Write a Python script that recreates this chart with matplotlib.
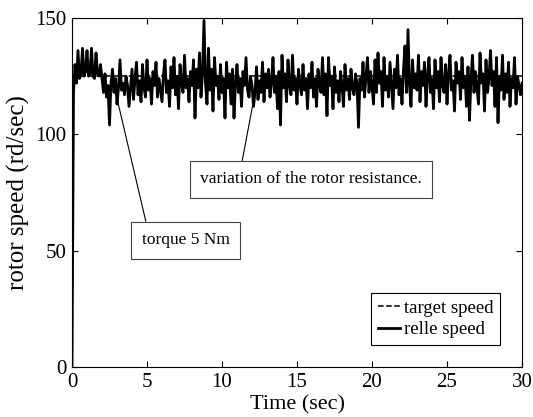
import numpy as np
import matplotlib
matplotlib.use('Agg')
import matplotlib.pyplot as plt

plt.rcParams['font.family'] = 'Liberation Serif'

# sample step of the measured trace (sec)
dt = 0.1
target_speed = 125.0

# rotor speed, one row per second (10 samples each)
speed = [
    0, 118, 130, 122, 136, 124, 126, 137, 125, 127,
    136, 125, 126, 137, 125, 124, 135, 126, 125, 130,
    124, 118, 126, 116, 121, 104, 122, 128, 118, 124,
    113, 120, 132, 119, 122, 117, 125, 121, 112, 120,
    128, 115, 124, 131, 117, 123, 114, 130, 120, 116,
    132, 119, 124, 113, 127, 121, 131, 116, 124, 119,
    114, 126, 132, 118, 123, 112, 129, 120, 133, 117,
    125, 111, 130, 122, 118, 134, 120, 124, 114, 127,
    121, 132, 107, 128, 120, 135, 116, 126, 149, 122,
    113, 137, 119, 128, 110, 133, 121, 125, 115, 130,
    118, 124, 107, 131, 120, 126, 113, 128, 107, 122,
    130, 118, 124, 112, 127, 121, 133, 119, 116, 125,
    121, 112, 118, 129, 115, 123, 118, 131, 114, 126,
    120, 128, 116, 122, 133, 118, 125, 111, 127, 104,
    134, 120, 126, 114, 132, 121, 117, 134, 119, 124,
    113, 128, 121, 117, 130, 119, 124, 111, 126, 120,
    131, 116, 124, 112, 128, 121, 118, 133, 117, 126,
    108, 133, 121, 125, 111, 129, 118, 123, 114, 127,
    121, 112, 130, 119, 124, 115, 128, 120, 117, 126,
    122, 103, 124, 119, 131, 116, 125, 133, 118, 127,
    121, 113, 132, 118, 135, 122, 127, 112, 133, 119,
    125, 116, 131, 121, 111, 128, 120, 134, 117, 124,
    113, 128, 138, 118, 145, 121, 112, 132, 120, 126,
    119, 134, 114, 127, 121, 131, 112, 125, 133, 118,
    124, 111, 132, 120, 127, 114, 133, 121, 118, 130,
    113, 126, 134, 119, 123, 110, 131, 122, 127, 115,
    133, 120, 125, 112, 129, 106, 124, 134, 118, 127,
    120, 113, 135, 122, 126, 110, 132, 118, 124, 136,
    121, 127, 112, 133, 105, 125, 119, 134, 115, 126,
    118, 131, 112, 124, 120, 133, 113, 125, 121, 117,
    122,
]
t = np.arange(len(speed)) * dt

fig = plt.figure(figsize=(5.33, 4.17), dpi=100)
ax = fig.add_axes([72/533, 50/417, 450/533, 349/417])

ax.plot([0, 30], [target_speed, target_speed], 'k--', lw=1.1, label='target speed')
ax.plot(t, speed, 'k-', lw=2.0, label='relle speed')

ax.set_xlim(0, 30)
ax.set_ylim(0, 150)
ax.set_xticks([0, 5, 10, 15, 20, 25, 30])
ax.set_yticks([0, 50, 100, 150])
ax.tick_params(direction='in', top=True, right=True, length=4, labelsize=15, pad=4)
ax.set_xlabel('Time (sec)', fontsize=16, labelpad=3)
ax.set_ylabel('rotor speed (rd/sec)', fontsize=18, labelpad=4)

box = dict(boxstyle='square,pad=0.6', fc='white', ec='#444444', lw=0.8)
ax.annotate('variation of the rotor resistance.', xy=(12.2, 117.8), xytext=(8.55, 80.6),
            ha='left', va='center', fontsize=12.5, bbox=box,
            arrowprops=dict(arrowstyle='-', lw=0.8, color='k', shrinkA=0, shrinkB=0,
                            relpos=(0.18, 1.0)))
ax.annotate('torque 5 Nm', xy=(3.07, 113.5), xytext=(7.58, 54.5),
            ha='center', va='center', fontsize=12.5, bbox=box,
            arrowprops=dict(arrowstyle='-', lw=0.8, color='k', shrinkA=0, shrinkB=0,
                            relpos=(0.075, 1.0)))

leg = ax.legend(loc='lower right', bbox_to_anchor=(0.951, 0.063), borderaxespad=0,
                fontsize=13.5, fancybox=False, edgecolor='k', framealpha=1,
                handlelength=1.2, handletextpad=0.2, labelspacing=0.25,
                borderpad=0.35)
leg.get_frame().set_linewidth(0.8)

fig.savefig('out.png', dpi=100)
